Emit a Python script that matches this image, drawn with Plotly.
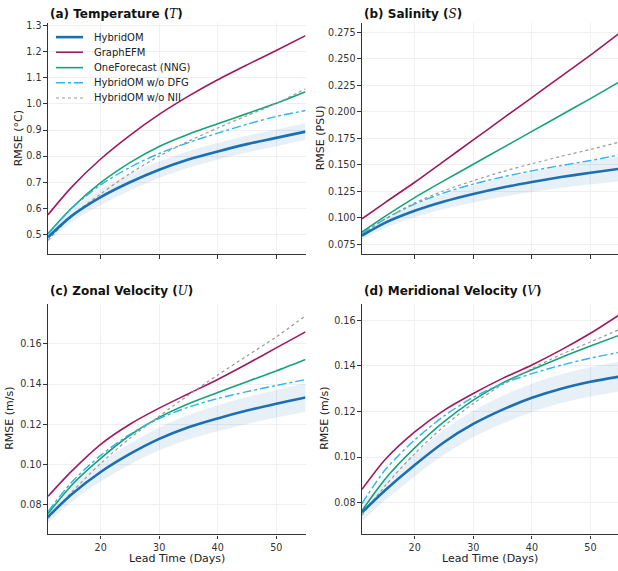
import plotly.graph_objects as go

days = [11, 15, 20, 25, 30, 35, 40, 45, 50, 55]

# (a) Temperature
T_hyb = [0.489, 0.570, 0.643, 0.700, 0.748, 0.787, 0.818, 0.846, 0.870, 0.894]
T_hyb_lo = [0.472, 0.546, 0.613, 0.668, 0.716, 0.755, 0.786, 0.814, 0.838, 0.862]
T_hyb_hi = [0.506, 0.594, 0.673, 0.732, 0.780, 0.819, 0.850, 0.878, 0.902, 0.926]
T_gef = [0.575, 0.680, 0.789, 0.880, 0.960, 1.030, 1.093, 1.150, 1.205, 1.262]
T_one = [0.503, 0.600, 0.698, 0.775, 0.837, 0.884, 0.924, 0.963, 1.003, 1.047]
T_dfg = [0.500, 0.598, 0.690, 0.757, 0.810, 0.852, 0.888, 0.922, 0.952, 0.975]
T_nii = [0.477, 0.570, 0.655, 0.733, 0.800, 0.857, 0.908, 0.955, 1.002, 1.058]

# (b) Salinity
S_hyb = [0.0832, 0.0954, 0.1066, 0.1154, 0.1225, 0.1286, 0.1338, 0.1384, 0.1425, 0.1462]
S_hyb_lo = [0.0792, 0.0905, 0.1005, 0.1083, 0.1145, 0.1198, 0.1243, 0.1282, 0.1316, 0.1345]
S_hyb_hi = [0.0872, 0.1003, 0.1127, 0.1225, 0.1305, 0.1374, 0.1433, 0.1486, 0.1534, 0.1579]
S_gef = [0.0990, 0.1145, 0.1335, 0.1535, 0.1735, 0.1935, 0.2135, 0.2335, 0.2535, 0.2745]
S_one = [0.0865, 0.1015, 0.1190, 0.1350, 0.1505, 0.1660, 0.1815, 0.1970, 0.2125, 0.2285]
S_dfg = [0.0850, 0.0990, 0.1130, 0.1235, 0.1318, 0.1385, 0.1443, 0.1493, 0.1540, 0.1595]
S_nii = [0.0845, 0.0990, 0.1140, 0.1255, 0.1350, 0.1435, 0.1510, 0.1580, 0.1645, 0.1715]

# (c) Zonal velocity
U_hyb = [0.0739, 0.0850, 0.0962, 0.1052, 0.1127, 0.1185, 0.1229, 0.1268, 0.1302, 0.1333]
U_hyb_lo = [0.0709, 0.0812, 0.0916, 0.1000, 0.1070, 0.1124, 0.1165, 0.1201, 0.1233, 0.1262]
U_hyb_hi = [0.0769, 0.0888, 0.1008, 0.1104, 0.1184, 0.1246, 0.1293, 0.1335, 0.1371, 0.1404]
U_gef = [0.0841, 0.0965, 0.1100, 0.1200, 0.1280, 0.1352, 0.1423, 0.1500, 0.1580, 0.1660]
U_one = [0.0755, 0.0895, 0.1030, 0.1145, 0.1234, 0.1302, 0.1358, 0.1412, 0.1465, 0.1522]
U_dfg = [0.0765, 0.0910, 0.1045, 0.1150, 0.1228, 0.1285, 0.1328, 0.1362, 0.1393, 0.1422]
U_nii = [0.0730, 0.0860, 0.1005, 0.1130, 0.1240, 0.1345, 0.1445, 0.1540, 0.1635, 0.1740]

# (d) Meridional velocity
V_hyb = [0.0757, 0.0855, 0.0965, 0.1065, 0.1145, 0.1208, 0.1260, 0.1300, 0.1330, 0.1353]
V_hyb_lo = [0.0718, 0.0812, 0.0915, 0.1010, 0.1087, 0.1147, 0.1198, 0.1237, 0.1266, 0.1288]
V_hyb_hi = [0.0796, 0.0898, 0.1015, 0.1120, 0.1203, 0.1269, 0.1322, 0.1363, 0.1394, 0.1418]
V_gef = [0.0858, 0.0990, 0.1110, 0.1205, 0.1279, 0.1345, 0.1404, 0.1470, 0.1543, 0.1625]
V_one = [0.0765, 0.0905, 0.1040, 0.1155, 0.1250, 0.1325, 0.1383, 0.1437, 0.1487, 0.1535]
V_dfg = [0.0796, 0.0945, 0.1075, 0.1180, 0.1262, 0.1322, 0.1366, 0.1403, 0.1434, 0.1460]
V_nii = [0.0745, 0.0875, 0.1015, 0.1135, 0.1235, 0.1318, 0.1388, 0.1450, 0.1505, 0.1560]

series_names = ["HybridOM", "GraphEFM", "OneForecast (NNG)", "HybridOM w/o DFG", "HybridOM w/o NII"]
colors = ["#1a70b3", "#9e1a5e", "#17a279", "#2bb5ec", "#999999"]
dashes = ["solid", "solid", "solid", "dashdot", "dot"]
widths = [2.6, 1.6, 1.6, 1.4, 1.2]

panels = [
    ("x", "y", T_hyb_lo, T_hyb_hi, [T_hyb, T_gef, T_one, T_dfg, T_nii]),
    ("x2", "y2", S_hyb_lo, S_hyb_hi, [S_hyb, S_gef, S_one, S_dfg, S_nii]),
    ("x3", "y3", U_hyb_lo, U_hyb_hi, [U_hyb, U_gef, U_one, U_dfg, U_nii]),
    ("x4", "y4", V_hyb_lo, V_hyb_hi, [V_hyb, V_gef, V_one, V_dfg, V_nii]),
]

fig = go.Figure()
for pi, (xa, ya, lo, hi, lines) in enumerate(panels):
    fig.add_trace(go.Scatter(x=days, y=lo, xaxis=xa, yaxis=ya, mode="lines",
                             line=dict(width=0, shape="spline", smoothing=0.8),
                             showlegend=False, hoverinfo="skip"))
    fig.add_trace(go.Scatter(x=days, y=hi, xaxis=xa, yaxis=ya, mode="lines",
                             line=dict(width=0, shape="spline", smoothing=0.8), fill="tonexty",
                             fillcolor="rgba(26,112,179,0.10)", showlegend=False, hoverinfo="skip"))
    for k in [1, 2, 3, 4, 0]:
        fig.add_trace(go.Scatter(x=days, y=lines[k], xaxis=xa, yaxis=ya, mode="lines",
                                 name=series_names[k], showlegend=False,
                                 line=dict(color=colors[k], width=widths[k], dash=dashes[k],
                                           shape="spline", smoothing=0.8)))

W, H = 618, 571
def px2x(px):
    return px / W
def px2y(py):
    return 1 - py / H
def dx(a, b):
    return [max(0.0, px2x(a)), min(1.0, px2x(b))]
def dy(top, bot):
    return [max(0.0, px2y(bot)), min(1.0, px2y(top))]

axis_common = dict(showline=True, linecolor="#333333", linewidth=1.1, ticks="outside",
                   ticklen=3.5, tickwidth=1, tickcolor="#333333", showgrid=True,
                   gridcolor="#efefef", gridwidth=0.8, zeroline=False,
                   tickfont=dict(family="DejaVu Sans", size=9.6, color="#333333"))

xticks = [20, 30, 40, 50]
fig.update_layout(
    xaxis=dict(domain=dx(48, 305.5), range=[11, 55], tickvals=xticks, showticklabels=False,
               anchor="y", **axis_common),
    yaxis=dict(domain=dy(20.5, 252.5), range=[0.424, 1.309], tickvals=[0.5, 0.6, 0.7, 0.8, 0.9, 1.0, 1.1, 1.2, 1.3],
               ticktext=["0.5", "0.6", "0.7", "0.8", "0.9", "1.0", "1.1", "1.2", "1.3"], anchor="x", **axis_common),
    xaxis2=dict(domain=dx(362, 618), range=[11, 54.7], tickvals=xticks, showticklabels=False,
                anchor="y2", **axis_common),
    yaxis2=dict(domain=dy(20.5, 252.5), range=[0.0656, 0.2835],
                tickvals=[0.075, 0.1, 0.125, 0.15, 0.175, 0.2, 0.225, 0.25, 0.275],
                ticktext=["0.075", "0.100", "0.125", "0.150", "0.175", "0.200", "0.225", "0.250", "0.275"],
                anchor="x2", **axis_common),
    xaxis3=dict(domain=dx(48, 305.5), range=[11, 55], tickvals=xticks, anchor="y3", **axis_common),
    yaxis3=dict(domain=dy(302.7, 534.3), range=[0.0651, 0.1798], tickvals=[0.08, 0.10, 0.12, 0.14, 0.16],
                ticktext=["0.08", "0.10", "0.12", "0.14", "0.16"], anchor="x3", **axis_common),
    xaxis4=dict(domain=dx(362, 618), range=[11, 54.7], tickvals=xticks, anchor="y4", **axis_common),
    yaxis4=dict(domain=dy(302.7, 534.3), range=[0.066, 0.1671], tickvals=[0.08, 0.10, 0.12, 0.14, 0.16],
                ticktext=["0.08", "0.10", "0.12", "0.14", "0.16"], anchor="x4", **axis_common),
)

serif = "font-family:'DejaVu Serif';font-style:italic;font-weight:normal"
titles = [
    ("(a) Temperature", "T", 48, 11),
    ("(b) Salinity", "S", 362, 11),
    ("(c) Zonal Velocity", "U", 48, 290),
    ("(d) Meridional Velocity", "V", 362, 290),
]
ann = []
for t, sym, px, py in titles:
    ann.append(dict(text=f"<b>{t} (</b><span style=\"{serif}\">{sym}</span><b>)</b>",
                    x=px2x(px), y=px2y(py), xref="paper", yref="paper", xanchor="left", yanchor="middle",
                    showarrow=False, font=dict(family="DejaVu Sans", size=12, color="#111111")))
ylabels = [("RMSE (°C)", 18, 136), ("RMSE (PSU)", 320, 136), ("RMSE (m/s)", 10, 418), ("RMSE (m/s)", 325, 418)]
for t, px, py in ylabels:
    ann.append(dict(text=t, x=px2x(px), y=px2y(py), xref="paper", yref="paper", xanchor="center",
                    yanchor="middle", textangle=-90, showarrow=False,
                    font=dict(family="DejaVu Sans", size=11, color="#222222")))
for px in [176.5, 490]:
    ann.append(dict(text="Lead Time (Days)", x=px2x(px), y=px2y(558), xref="paper", yref="paper",
                    xanchor="center", yanchor="middle", showarrow=False,
                    font=dict(family="DejaVu Sans", size=11, color="#222222")))

# legend (keys + labels inside panel a)
shapes = []
legend_rows = [34.3, 49.5, 65, 80.2, 95.5]
for k, ry in enumerate(legend_rows):
    shapes.append(dict(type="line", xref="paper", yref="paper", x0=px2x(56), x1=px2x(83),
                       y0=px2y(ry), y1=px2y(ry),
                       line=dict(color=colors[k], width=widths[k], dash=dashes[k])))
    ann.append(dict(text=series_names[k], x=px2x(91.5), y=px2y(ry), xref="paper", yref="paper",
                    xanchor="left", yanchor="middle", showarrow=False,
                    font=dict(family="DejaVu Sans", size=10, color="#222222")))

fig.update_layout(
    width=W, height=H, margin=dict(l=0, r=0, t=0, b=0),
    paper_bgcolor="white", plot_bgcolor="white",
    annotations=ann, shapes=shapes, showlegend=False,
)

fig.write_html("out.html", config={"displayModeBar": False},
               post_script="document.body.style.margin='0';document.body.style.overflow='hidden';")
